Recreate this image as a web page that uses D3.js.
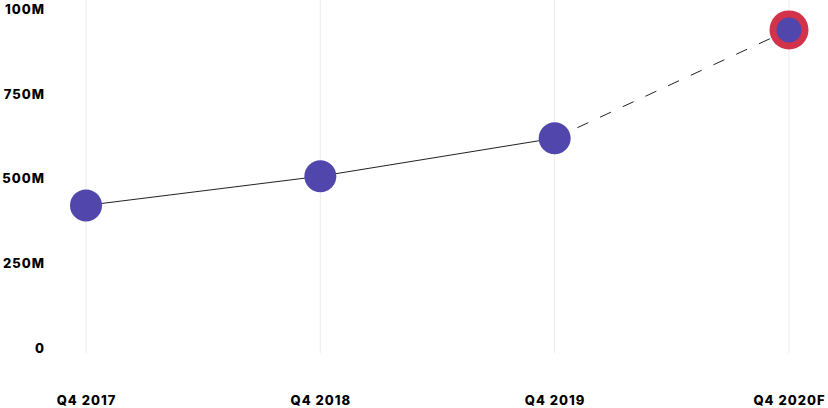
<!DOCTYPE html>
<html>
<head>
<meta charset="utf-8">
<script src="https://cdn.jsdelivr.net/npm/d3@7"></script>
<style>
  html, body { margin: 0; padding: 0; background: #fff; overflow: hidden; }
  svg { display: block; }
  text { font-family: Inter, "Open Sans", sans-serif; font-weight: 800; fill: #000; }
</style>
</head>
<body>
<svg id="chart" width="828" height="408"></svg>
<script>
// ---- data ----
const categories = ["Q4 2017", "Q4 2018", "Q4 2019", "Q4 2020F"];
const values = [420, 506, 618, 937]; // millions
const forecast = [false, false, false, true];
const yTickValues = [0, 250, 500, 750, 1000];
const yTickLabels = ["0", "250M", "500M", "750M", "100M"];

// ---- layout ----
const svg = d3.select("#chart");
const x = d3.scalePoint().domain(categories).range([86, 789]);
const y = d3.scaleLinear().domain([0, 1000]).range([348, 8.5]);

const data = categories.map((c, i) => ({ c, v: values[i], f: forecast[i] }));

// vertical grid lines
svg.append("g").selectAll("line")
  .data(categories)
  .join("line")
  .attr("x1", d => x(d)).attr("x2", d => x(d))
  .attr("y1", 0).attr("y2", 353)
  .attr("stroke", "#ececec").attr("stroke-width", 1);

// y axis labels
const yAxis = d3.axisLeft(y)
  .tickValues(yTickValues)
  .tickFormat((d, i) => yTickLabels[i])
  .tickSize(0).tickPadding(0);
const gy = svg.append("g").attr("transform", "translate(45,0)").call(yAxis);
gy.select(".domain").remove();
gy.selectAll("text")
  .attr("font-family", null)
  .style("font-size", "13px").style("letter-spacing", "1px")
  .attr("dy", "0.36em").attr("x", 0);

// x axis labels
const xAxis = d3.axisBottom(x).tickSize(0).tickPadding(0);
const gx = svg.append("g").attr("transform", "translate(0,400.5)").call(xAxis);
gx.select(".domain").remove();
gx.selectAll("text")
  .attr("font-family", null)
  .style("font-size", "13px").style("letter-spacing", "1px")
  .attr("dy", "0.36em").attr("y", 0);

// lines
const line = d3.line().x(d => x(d.c)).y(d => y(d.v));
const actual = data.filter(d => !d.f);
const lastActual = actual[actual.length - 1];
const fc = [lastActual].concat(data.filter(d => d.f));

svg.append("path").datum(actual)
  .attr("d", line).attr("fill", "none")
  .attr("stroke", "#222").attr("stroke-width", 1);
svg.append("path").datum(fc)
  .attr("d", line).attr("fill", "none")
  .attr("stroke", "#222").attr("stroke-width", 1)
  .attr("stroke-dasharray", "12,13");

// points
svg.append("g").selectAll("circle.outer")
  .data(data.filter(d => d.f))
  .join("circle").attr("class", "outer")
  .attr("cx", d => x(d.c)).attr("cy", d => y(d.v))
  .attr("r", 19.5).attr("fill", "#D2334A");

svg.append("g").selectAll("circle.pt")
  .data(data)
  .join("circle").attr("class", "pt")
  .attr("cx", d => x(d.c)).attr("cy", d => y(d.v))
  .attr("r", d => d.f ? 12.5 : 16)
  .attr("fill", "#5046AB");
</script>
</body>
</html>
